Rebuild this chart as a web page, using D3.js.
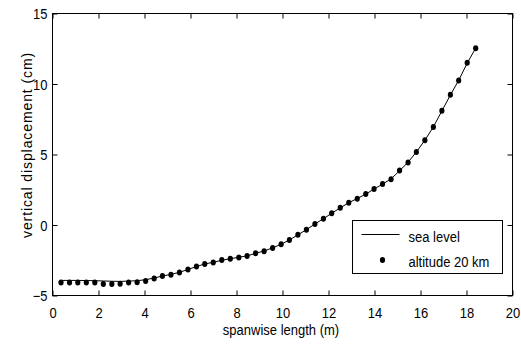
<!DOCTYPE html>
<html>
<head>
<meta charset="utf-8">
<script src="https://cdn.jsdelivr.net/npm/d3@7"></script>
<style>
  body { margin: 0; background: #fff; }
  text { font-family: Arial, "Liberation Sans", sans-serif; fill: #000; }
</style>
</head>
<body>
<div class="chart"></div>
<script>
// spanwise stations (m)
const span = [0.37, 0.74, 1.10, 1.47, 1.84, 2.21, 2.58, 2.94, 3.31, 3.68,
  4.05, 4.42, 4.78, 5.15, 5.52, 5.89, 6.26, 6.62, 6.99, 7.36,
  7.73, 8.10, 8.46, 8.83, 9.20, 9.57, 9.94, 10.30, 10.67, 11.04,
  11.41, 11.78, 12.14, 12.51, 12.88, 13.25, 13.62, 13.98, 14.35, 14.72,
  15.09, 15.46, 15.82, 16.19, 16.56, 16.93, 17.30, 17.66, 18.03, 18.40];

// vertical displacement (cm), sea level
const seaLevel = [-3.93, -3.93, -3.93, -3.94, -3.95, -3.97, -3.99, -4.00, -3.98, -3.95,
  -3.88, -3.76, -3.62, -3.50, -3.36, -3.15, -2.95, -2.76, -2.65, -2.50,
  -2.39, -2.29, -2.19, -2.01, -1.84, -1.62, -1.37, -1.06, -0.70, -0.33,
  0.07, 0.45, 0.83, 1.22, 1.58, 1.88, 2.19, 2.55, 2.90, 3.27,
  3.85, 4.45, 5.18, 6.01, 6.96, 8.09, 9.22, 10.26, 11.48, 12.54];

// vertical displacement (cm), altitude 20 km
const alt20 = [-4.08, -4.08, -4.08, -4.08, -4.08, -4.18, -4.18, -4.16, -4.08, -4.06,
  -3.98, -3.80, -3.62, -3.52, -3.37, -3.15, -2.95, -2.76, -2.66, -2.49,
  -2.39, -2.30, -2.20, -2.01, -1.86, -1.63, -1.37, -1.06, -0.70, -0.33,
  0.07, 0.45, 0.83, 1.22, 1.58, 1.86, 2.19, 2.55, 2.90, 3.25,
  3.87, 4.43, 5.18, 6.01, 6.95, 8.11, 9.24, 10.25, 11.51, 12.54];

const xTicks = [0, 2, 4, 6, 8, 10, 12, 14, 16, 18, 20];
const yTicks = [-5, 0, 5, 10, 15];
const legendLabels = ["sea level", "altitude 20 km"];

const W = 521, H = 344;
const box = { left: 52.5, right: 512.5, top: 13.5, bottom: 295.5 };
const SY = 1.12; // text in the original export is a bit taller than Arial

const svg = d3.select(".chart").append("svg")
  .attr("width", W).attr("height", H)
  .style("display", "block");

svg.append("rect").attr("width", W).attr("height", H).attr("fill", "#fff");

const x = d3.scaleLinear().domain([0, 20]).range([box.left, box.right]);
const y = d3.scaleLinear().domain([-5, 15]).range([box.bottom, box.top]);

// ticks point inward on all four sides
const xAxis = d3.axisBottom(x).tickValues(xTicks).tickSize(-5);
const yAxis = d3.axisLeft(y).tickValues(yTicks).tickSize(-5);

const gx = svg.append("g").attr("transform", `translate(0,${box.bottom})`).call(xAxis);
const gy = svg.append("g").attr("transform", `translate(${box.left},0)`).call(yAxis);
svg.append("g").attr("transform", `translate(0,${box.top})`)
  .call(d3.axisTop(x).tickValues(xTicks).tickSize(-5).tickFormat(""));
svg.append("g").attr("transform", `translate(${box.right},0)`)
  .call(d3.axisRight(y).tickValues(yTicks).tickSize(-5).tickFormat(""));

svg.selectAll(".domain").remove();
svg.selectAll(".tick line").attr("stroke", "#000");

gx.selectAll("text")
  .attr("font-size", 13).attr("font-family", null)
  .attr("y", 0).attr("dy", null)
  .attr("transform", `translate(0,22.5) scale(1,${SY})`);
gy.selectAll("text")
  .attr("font-size", 13).attr("font-family", null)
  .attr("x", 0).attr("dy", null)
  .attr("transform", `translate(-5,5.3) scale(1,${SY})`);

svg.append("rect")
  .attr("x", box.left).attr("y", box.top)
  .attr("width", box.right - box.left).attr("height", box.bottom - box.top)
  .attr("fill", "none").attr("stroke", "#000");

// curves
const line = d3.line().x((d, i) => x(span[i])).y(d => y(d));

svg.append("path")
  .datum(seaLevel)
  .attr("d", line)
  .attr("fill", "none")
  .attr("stroke", "#000")
  .attr("stroke-width", 1);

svg.selectAll(".dot")
  .data(alt20)
  .enter()
  .append("ellipse")
  .attr("class", "dot")
  .attr("cx", (d, i) => x(span[i]))
  .attr("cy", d => y(d))
  .attr("rx", 2.6)
  .attr("ry", 3)
  .attr("fill", "#000");

// axis titles
svg.append("text")
  .attr("transform", `translate(281,335) scale(1,${SY})`)
  .attr("text-anchor", "middle")
  .attr("font-size", 13)
  .text("spanwise length (m)");

svg.append("text")
  .attr("transform", "translate(32,145) rotate(-90)")
  .attr("text-anchor", "middle")
  .attr("font-size", 14)
  .attr("letter-spacing", 0.9)
  .text("vertical displacement (cm)");

// legend
const lg = svg.append("g").attr("transform", "translate(352.5,220.5)");
lg.append("rect")
  .attr("width", 150).attr("height", 53)
  .attr("fill", "#fff").attr("stroke", "#000");
lg.append("line")
  .attr("x1", 9).attr("x2", 47).attr("y1", 14).attr("y2", 14)
  .attr("stroke", "#000");
lg.append("ellipse")
  .attr("cx", 30).attr("cy", 39.5).attr("rx", 2.6).attr("ry", 3)
  .attr("fill", "#000");
lg.selectAll(".lab")
  .data(legendLabels)
  .enter()
  .append("text")
  .attr("class", "lab")
  .attr("transform", (d, i) => `translate(56,${21 + i * 25}) scale(1,${SY})`)
  .attr("font-size", 13)
  .text(d => d);
</script>
</body>
</html>
